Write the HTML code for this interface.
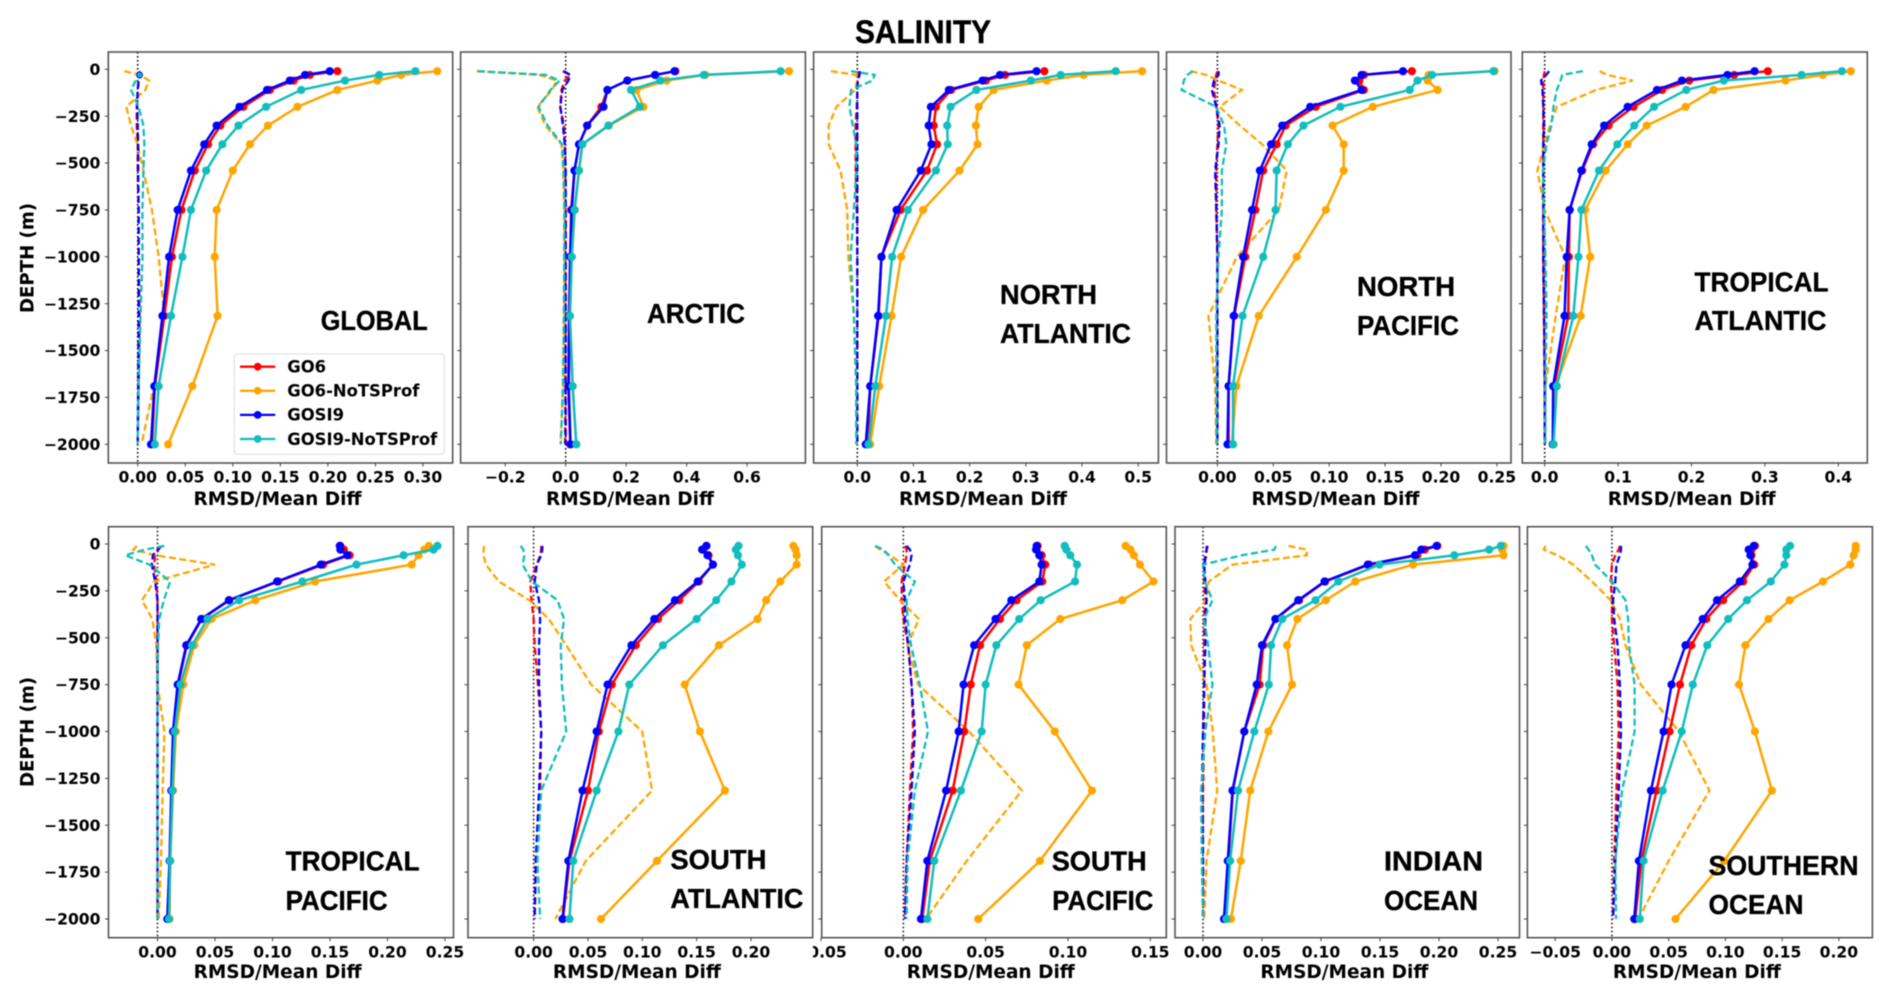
<!DOCTYPE html>
<html lang="en">
<head>
<meta charset="utf-8">
<title>Salinity RMSD and mean difference profiles</title>
<style>
html,body{margin:0;padding:0;background:#fff;width:1892px;height:1000px;overflow:hidden}
svg{display:block;filter:blur(.45px)}
.tick{font:bold 15.6px "DejaVu Sans",sans-serif;fill:#000}
.axis-title{font:bold 18.8px "DejaVu Sans",sans-serif;fill:#000}
.region{font:bold 27.5px "Liberation Sans",sans-serif;fill:#000;stroke:#000;stroke-width:.35px}
.title{font:bold 32px "Liberation Sans",sans-serif;fill:#000;stroke:#000;stroke-width:.4px}
.legend-text{font:bold 16.4px "DejaVu Sans",sans-serif;fill:#000}
</style>
</head>
<body>
<svg id="chart" xmlns="http://www.w3.org/2000/svg" width="1892" height="1000" viewBox="0 0 1892 1000">
  <rect x="0" y="0" width="1892" height="1000" fill="#fff"/>
  <defs><clipPath id="sp-tick-clip"><rect x="813" y="935" width="120" height="40"/></clipPath></defs>
  <text class="title" x="855" y="43" textLength="136" lengthAdjust="spacingAndGlyphs">SALINITY</text>
  <g id="panels"></g>
  <g id="labels">
    <text class="region" x="320.7" y="330" textLength="107" lengthAdjust="spacingAndGlyphs">GLOBAL</text>
    <text class="region" x="647" y="323" textLength="98" lengthAdjust="spacingAndGlyphs">ARCTIC</text>
    <text class="region" x="1000" y="304" textLength="97" lengthAdjust="spacingAndGlyphs">NORTH</text>
    <text class="region" x="1000" y="343" textLength="131" lengthAdjust="spacingAndGlyphs">ATLANTIC</text>
    <text class="region" x="1357" y="296" textLength="98" lengthAdjust="spacingAndGlyphs">NORTH</text>
    <text class="region" x="1357" y="335" textLength="102" lengthAdjust="spacingAndGlyphs">PACIFIC</text>
    <text class="region" x="1694.5" y="291.7" textLength="134" lengthAdjust="spacingAndGlyphs">TROPICAL</text>
    <text class="region" x="1694.5" y="330" textLength="132" lengthAdjust="spacingAndGlyphs">ATLANTIC</text>
    <text class="region" x="285.6" y="870.7" textLength="134" lengthAdjust="spacingAndGlyphs">TROPICAL</text>
    <text class="region" x="285.6" y="910" textLength="102" lengthAdjust="spacingAndGlyphs">PACIFIC</text>
    <text class="region" x="670.4" y="869" textLength="96" lengthAdjust="spacingAndGlyphs">SOUTH</text>
    <text class="region" x="670.4" y="908" textLength="133" lengthAdjust="spacingAndGlyphs">ATLANTIC</text>
    <text class="region" x="1051.7" y="870.7" textLength="95" lengthAdjust="spacingAndGlyphs">SOUTH</text>
    <text class="region" x="1052.3" y="910" textLength="101" lengthAdjust="spacingAndGlyphs">PACIFIC</text>
    <text class="region" x="1384" y="870.7" textLength="99" lengthAdjust="spacingAndGlyphs">INDIAN</text>
    <text class="region" x="1384" y="910" textLength="94" lengthAdjust="spacingAndGlyphs">OCEAN</text>
    <text class="region" x="1708.5" y="875" textLength="150" lengthAdjust="spacingAndGlyphs">SOUTHERN</text>
    <text class="region" x="1708.5" y="914" textLength="95" lengthAdjust="spacingAndGlyphs">OCEAN</text>
  </g>
  <g id="legend"></g>
</svg>
<script>
// Shared axis data
const depthLevels = [10,30,60,110,200,300,400,540,750,1000,1315,1690,2000];
const depthTicks = [0,-250,-500,-750,-1000,-1250,-1500,-1750,-2000];
const seriesNames = ['GO6','GO6-NoTSProf','GOSI9','GOSI9-NoTSProf'];

// GLOBAL
const globalGo6Rmsd = [.21,.181,.164,.139,.111,.087,.074,.060,.046,.036,.028,.018,.015];
const globalGo6NoRmsd = [.315,.277,.252,.21,.168,.137,.118,.100,.083,.081,.084,.0575,.032];
const globalGosiRmsd = [.202,.176,.160,.136,.107,.083,.070,.056,.042,.033,.026,.0175,.014];
const globalGosiNoRmsd = [.292,.254,.218,.172,.135,.106,.089,.072,.056,.047,.035,.022,.018];
const globalGo6Diff = [.002,.002,.001,0,-.001,-.001,0,0,.001,.001,.002,.001,0];
const globalGo6NoDiff = [-.014,.002,.012,.008,-.012,-.007,-.0003,.006,.015,.022,.028,.017,.004];
const globalGosiDiff = [.002,.002,.001,0,-.0005,0,.0005,.0005,.001,.001,.001,.0005,0];
const globalGosiNoDiff = [.002,.002,-.002,-.007,.001,.006,.007,.006,.005,.005,.003,.001,0];
const globalTicks = ['0.00','0.05','0.10','0.15','0.20','0.25','0.30'];

// ARCTIC
const arcticGo6Rmsd = [.363,.296,.204,.138,.118,.071,.044,.029,.018,.015,.011,.009,.015];
const arcticGo6NoRmsd = [.739,.462,.334,.234,.257,.143,.055,.044,.03,.02,.014,.023,.035];
const arcticGosiRmsd = [.36,.296,.204,.138,.125,.071,.044,.029,.02,.015,.012,.01,.016];
const arcticGosiNoRmsd = [.711,.457,.313,.216,.245,.141,.055,.044,.029,.02,.014,.023,.035];
const arcticGo6Diff = [-.01,.015,-.003,-.014,-.018,-.006,-.003,-.001,-.001,-.001,-.001,-.001,-.002];
const arcticGo6NoDiff = [-.295,-.087,-.03,-.045,-.094,-.067,-.014,-.008,-.005,-.005,-.006,-.009,-.017];
const arcticGosiDiff = [-.006,.015,.009,-.011,-.018,-.009,-.003,0,0,0,0,0,0];
const arcticGosiNoDiff = [-.29,-.065,-.02,-.05,-.09,-.06,-.012,-.007,-.004,-.005,-.006,-.009,-.016];
const arcticTicks = ['-0.2','0.0','0.2','0.4','0.6'];

// NORTH ATLANTIC
const nAtlGo6Rmsd = [.333,.263,.229,.167,.14,.136,.142,.124,.077,.043,.038,.023,.019];
const nAtlGo6NoRmsd = [.507,.403,.337,.243,.216,.211,.214,.182,.117,.078,.061,.039,.023];
const nAtlGosiRmsd = [.319,.254,.223,.163,.131,.127,.132,.113,.07,.043,.037,.023,.015];
const nAtlGosiNoRmsd = [.46,.362,.309,.212,.166,.16,.161,.14,.09,.062,.051,.032,.02];
const nAtlGo6Diff = [.003,.002,0,0,-.001,-.003,-.003,-.003,-.001,0,0,0,0];
const nAtlGo6NoDiff = [-.047,-.002,0,-.004,-.037,-.051,-.051,-.03,-.018,-.016,-.006,-.002,-.001];
const nAtlGosiDiff = [.005,.004,.001,0,0,0,0,0,0,0,0,0,0];
const nAtlGosiNoDiff = [-.011,.031,.027,-.011,-.014,-.008,-.002,-.002,-.006,-.012,-.006,-.002,-.002];
const nAtlTicks = ['0.0','0.1','0.2','0.3','0.4','0.5'];

// NORTH PACIFIC
const nPacGo6Rmsd = [.174,.131,.127,.131,.088,.061,.053,.041,.034,.025,.015,.01,.01];
const nPacGo6NoRmsd = [.248,.189,.188,.197,.139,.103,.113,.113,.097,.071,.037,.017,.013];
const nPacGosiRmsd = [.166,.129,.123,.129,.083,.058,.048,.038,.031,.023,.0146,.01,.009];
const nPacGosiNoRmsd = [.247,.192,.179,.172,.11,.077,.063,.053,.052,.041,.0225,.014,.014];
const nPacGo6Diff = [0,-.001,-.002,-.003,-.001,.001,0,-.001,-.001,0,0,0,0];
const nPacGo6NoDiff = [-.024,-.01,.001,.022,.002,.02,.04,.062,.055,.0175,-.008,-.002,-.001];
const nPacGosiDiff = [.001,.001,-.003,-.005,-.001,.002,.001,-.002,-.001,0,0,0,0];
const nPacGosiNoDiff = [-.022,-.027,-.03,-.032,-.001,.006,.008,.004,.004,.001,-.001,-.001,-.0005];
const nPacTicks = ['0.00','0.05','0.10','0.15','0.20','0.25'];

// TROPICAL ATLANTIC
const tAtlGo6Rmsd = [.304,.258,.197,.16,.121,.087,.066,.051,.034,.033,.032,.013,.012];
const tAtlGo6NoRmsd = [.417,.379,.328,.23,.192,.139,.113,.083,.055,.062,.049,.015,.012];
const tAtlGosiRmsd = [.286,.249,.187,.153,.113,.081,.064,.05,.034,.03,.027,.0115,.011];
const tAtlGosiNoRmsd = [.405,.35,.244,.193,.149,.122,.099,.074,.05,.046,.039,.0165,.012];
const tAtlGo6Diff = [0,-.001,-.002,-.002,-.002,-.002,-.002,-.002,-.002,-.002,-.001,0,0];
const tAtlGo6NoDiff = [.075,.085,.12,.07,.0165,.007,0,-.01,0,.028,.015,.001,0];
const tAtlGosiDiff = [.006,.002,-.005,-.003,-.002,-.001,-.002,-.002,-.002,-.002,-.001,0,0];
const tAtlGosiNoDiff = [.052,.024,.0215,.0165,.012,.009,.0025,-.0025,-.001,.001,.0025,.001,.001];
const tAtlTicks = ['0.0','0.1','0.2','0.3','0.4'];

// TROPICAL PACIFIC
const tPacGo6Rmsd = [.159,.162,.167,.144,.105,.0625,.0385,.0255,.018,.0145,.0125,.011,.009];
const tPacGo6NoRmsd = [.236,.232,.227,.221,.137,.085,.047,.032,.0225,.016,.0135,.011,.0105];
const tPacGosiRmsd = [.1585,.159,.165,.142,.104,.062,.038,.025,.0175,.0135,.012,.0105,.0085];
const tPacGosiNoRmsd = [.2435,.24,.214,.173,.126,.071,.0435,.03,.02,.015,.013,.011,.01];
const tPacGo6Diff = [.002,.001,-.002,-.003,-.001,0,0,0,0,0,0,0,0];
const tPacGo6NoDiff = [-.018,-.021,-.002,.05,-.003,-.0135,-.0045,-.001,0,.006,.0045,.003,.001];
const tPacGosiDiff = [.004,0,-.004,-.005,-.002,0,0,0,0,0,0,0,0];
const tPacGosiNoDiff = [.006,-.011,-.028,-.007,.011,.0055,.0015,.0005,0,0,0,0,0];
const tPacTicks = ['0.00','0.05','0.10','0.15','0.20','0.25'];

// SOUTH ATLANTIC
const sAtlGo6Rmsd = [.159,.156,.161,.165,.152,.134,.1145,.094,.072,.06,.05,.033,.027];
const sAtlGo6NoRmsd = [.239,.241,.242,.242,.227,.214,.206,.1705,.139,.153,.176,.1135,.062];
const sAtlGosiRmsd = [.159,.155,.16,.165,.151,.13,.111,.09,.068,.058,.045,.032,.0266];
const sAtlGosiNoRmsd = [.1885,.186,.188,.1915,.182,.168,.15,.119,.088,.078,.058,.0365,.033];
const sAtlGo6Diff = [.007,.007,.006,.003,-.003,-.002,0,.001,.004,.007,.006,.002,.001];
const sAtlGo6NoDiff = [-.0455,-.046,-.046,-.044,-.032,-.004,.014,.03,.053,.1,.109,.048,.02];
const sAtlGosiDiff = [.008,.008,.007,.003,.001,.005,.006,.005,.005,.007,.005,.002,.001];
const sAtlGosiNoDiff = [-.012,-.0095,-.0085,-.01,-.0015,.022,.028,.025,.026,.03,.007,.0035,.006];
const sAtlTicks = ['0.00','0.05','0.10','0.15','0.20'];

// SOUTH PACIFIC
const sPacGo6Rmsd = [.0816,.081,.084,.0862,.0844,.0688,.0587,.0466,.041,.037,.03,.016,.0115];
const sPacGo6NoRmsd = [.135,.138,.14,.1437,.152,.133,.0953,.075,.07,.092,.1146,.083,.0455];
const sPacGosiRmsd = [.081,.0806,.0826,.084,.0826,.0656,.056,.043,.0366,.0336,.026,.0146,.0107];
const sPacGosiNoRmsd = [.098,.099,.1014,.1055,.1043,.0834,.0704,.0565,.05,.0476,.035,.0188,.0146];
const sPacGo6Diff = [.001,.002,.002,.001,-.001,-.001,0,.003,.005,.006,.004,.002,.001];
const sPacGo6NoDiff = [-.0172,-.014,-.008,0,-.0117,-.002,.0095,.0025,.009,.04,.072,.0385,.0138];
const sPacGosiDiff = [.002,.004,.005,.004,0,.001,.001,.003,.005,.007,.005,.002,.001];
const sPacGosiNoDiff = [-.017,-.012,-.009,-.005,.007,.002,.0025,.0047,.01,.015,.007,.0026,.002];
const sPacTicks = ['-0.05','0.00','0.05','0.10','0.15'];

// INDIAN OCEAN
const indGo6Rmsd = [.1986,.188,.1816,.141,.1036,.0815,.0617,.051,.048,.035,.0253,.0214,.018];
const indGo6NoRmsd = [.2547,.2535,.2547,.178,.129,.104,.08,.0712,.0755,.0554,.04,.032,.0237];
const indGosiRmsd = [.198,.185,.1796,.1396,.103,.0807,.0613,.05,.0455,.035,.025,.021,.0178];
const indGosiNoRmsd = [.2524,.2425,.213,.1495,.1147,.0953,.0672,.0577,.0558,.0435,.0297,.023,.0198];
const indGo6Diff = [.003,.003,.003,.001,.001,.002,.001,.001,.001,.001,0,0,0];
const indGo6NoDiff = [.0724,.088,.088,.025,.005,.0024,-.0107,-.01,.003,.0083,.012,.003,.001];
const indGosiDiff = [.004,.003,.002,.001,.002,.003,.002,.002,.001,0,-.001,0,0];
const indGosiNoDiff = [.0617,.0605,.033,0,.0016,.008,.001,.0044,.008,.002,-.0016,-.001,0];
const indTicks = ['0.00','0.05','0.10','0.15','0.20','0.25'];

// SOUTHERN OCEAN
const soGo6Rmsd = [.126,.123,.123,.1254,.1156,.098,.0832,.07,.06,.0508,.0393,.026,.0205];
const soGo6NoRmsd = [.2148,.2148,.213,.21,.186,.1566,.138,.1176,.112,.126,.141,.099,.056];
const soGosiRmsd = [.125,.1205,.122,.1238,.1127,.0926,.08,.0648,.0525,.0455,.0344,.0238,.0197];
const soGosiNoRmsd = [.157,.1537,.1537,.152,.14,.119,.1025,.084,.0713,.0615,.0447,.0279,.0246];
const soGo6Diff = [.007,.006,.003,0,-.001,0,0,.002,.005,.006,.004,.002,.001];
const soGo6NoDiff = [-.0586,-.06,-.048,-.034,-.0176,-.001,.007,.012,.0254,.059,.086,.05,.0234];
const soGosiDiff = [.008,.008,.007,.004,.003,.001,.002,.005,.007,.008,.006,.003,.001];
const soGosiNoDiff = [-.023,-.0205,-.0176,-.0148,0,.012,.0143,.015,.02,.02,.009,.003,.0037];
const soTicks = ['-0.05','0.00','0.05','0.10','0.15','0.20'];

const SVG_NS = 'http://www.w3.org/2000/svg';
const seriesColors = ['#ff0000','#ffa500','#0000ff','#12bdbd'];
const ROW1 = {top:52, bottom:463, y0:69.3, ppm:375/2000, tickBase:482.7, titleBase:505};
const ROW2 = {top:526.7, bottom:937.7, y0:544, ppm:375/2000, tickBase:957.5, titleBase:978};

const panels = [
 {key:'global',row:ROW1,left:108.3,right:452.7,x0:137.7,ppu:951,titleX:277.5,yLabels:true,ticks:globalTicks,
  solid:[globalGo6Rmsd,globalGo6NoRmsd,globalGosiRmsd,globalGosiNoRmsd],dash:[globalGo6Diff,globalGo6NoDiff,globalGosiDiff,globalGosiNoDiff],dashDot:1},
 {key:'arctic',row:ROW1,left:460.6,right:805.4,x0:565.7,ppu:302.3,titleX:630,ticks:arcticTicks,
  solid:[arcticGo6Rmsd,arcticGo6NoRmsd,arcticGosiRmsd,arcticGosiNoRmsd],dash:[arcticGo6Diff,arcticGo6NoDiff,arcticGosiDiff,arcticGosiNoDiff]},
 {key:'north-atlantic',row:ROW1,left:813.6,right:1158.4,x0:857.3,ppu:561.8,titleX:983,ticks:nAtlTicks,
  solid:[nAtlGo6Rmsd,nAtlGo6NoRmsd,nAtlGosiRmsd,nAtlGosiNoRmsd],dash:[nAtlGo6Diff,nAtlGo6NoDiff,nAtlGosiDiff,nAtlGosiNoDiff]},
 {key:'north-pacific',row:ROW1,left:1166.5,right:1511,x0:1217.4,ppu:1118,titleX:1335.5,ticks:nPacTicks,
  solid:[nPacGo6Rmsd,nPacGo6NoRmsd,nPacGosiRmsd,nPacGosiNoRmsd],dash:[nPacGo6Diff,nPacGo6NoDiff,nPacGosiDiff,nPacGosiNoDiff]},
 {key:'tropical-atlantic',row:ROW1,left:1522.3,right:1867.3,x0:1544.7,ppu:734,titleX:1691.7,ticks:tAtlTicks,
  solid:[tAtlGo6Rmsd,tAtlGo6NoRmsd,tAtlGosiRmsd,tAtlGosiNoRmsd],dash:[tAtlGo6Diff,tAtlGo6NoDiff,tAtlGosiDiff,tAtlGosiNoDiff]},
 {key:'tropical-pacific',row:ROW2,left:108.5,right:453.5,x0:157.5,ppu:1150,titleX:277.6,yLabels:true,ticks:tPacTicks,
  solid:[tPacGo6Rmsd,tPacGo6NoRmsd,tPacGosiRmsd,tPacGosiNoRmsd],dash:[tPacGo6Diff,tPacGo6NoDiff,tPacGosiDiff,tPacGosiNoDiff]},
 {key:'south-atlantic',row:ROW2,left:468,right:812.7,x0:533.6,ppu:1087,titleX:636.9,ticks:sAtlTicks,
  solid:[sAtlGo6Rmsd,sAtlGo6NoRmsd,sAtlGosiRmsd,sAtlGosiNoRmsd],dash:[sAtlGo6Diff,sAtlGo6NoDiff,sAtlGosiDiff,sAtlGosiNoDiff]},
 {key:'south-pacific',row:ROW2,left:821.7,right:1166.3,x0:903.3,ppu:1646.7,titleX:990.8,ticks:sPacTicks,clipTicks:'url(#sp-tick-clip)',
  solid:[sPacGo6Rmsd,sPacGo6NoRmsd,sPacGosiRmsd,sPacGosiNoRmsd],dash:[sPacGo6Diff,sPacGo6NoDiff,sPacGosiDiff,sPacGosiNoDiff]},
 {key:'indian-ocean',row:ROW2,left:1175,right:1519.5,x0:1203,ppu:1180,titleX:1344.4,ticks:indTicks,
  solid:[indGo6Rmsd,indGo6NoRmsd,indGosiRmsd,indGosiNoRmsd],dash:[indGo6Diff,indGo6NoDiff,indGosiDiff,indGosiNoDiff]},
 {key:'southern-ocean',row:ROW2,left:1527.4,right:1872.4,x0:1611.9,ppu:1135,titleX:1696.9,ticks:soTicks,
  solid:[soGo6Rmsd,soGo6NoRmsd,soGosiRmsd,soGosiNoRmsd],dash:[soGo6Diff,soGo6NoDiff,soGosiDiff,soGosiNoDiff]}
];

function mk(tag, attrs, parent) {
  const e = document.createElementNS(SVG_NS, tag);
  for (const k in attrs) e.setAttribute(k, attrs[k]);
  parent.appendChild(e);
  return e;
}
function slug(s) { return s.toLowerCase().replace(/[^a-z0-9]+/g, '-'); }

const panelsRoot = document.getElementById('panels');

panels.forEach(function (p) {
  const xScale = function (v) { return p.x0 + v * p.ppu; };
  const yScale = function (d) { return p.row.y0 + d * p.row.ppm; };

  const g = mk('g', {}, panelsRoot);
  
  

  const clipId = 'clip-' + p.key;
  const clip = mk('clipPath', {id: clipId}, g);
  mk('rect', {x: p.left, y: p.row.top, width: p.right - p.left, height: p.row.bottom - p.row.top}, clip);

  // zero reference line
  const zero = mk('line', {x1: xScale(0), x2: xScale(0), y1: p.row.top, y2: p.row.bottom, stroke: '#111', 'stroke-width': 1.6, 'stroke-dasharray': '1.6 2.4'}, g);
  
  

  const plot = mk('g', {'clip-path': 'url(#' + clipId + ')'}, g);

  // dashed mean difference profiles
  p.dash.forEach(function (vals, i) {
    const pts = vals.map(function (v, k) { return xScale(v).toFixed(2) + ',' + yScale(depthLevels[k]).toFixed(2); }).join(' ');
    const line = mk('polyline', {points: pts, fill: 'none', stroke: seriesColors[i], 'stroke-width': 2.3, 'stroke-dasharray': '7 3.4'}, plot);
    
    
  });

  // solid RMSD profiles with markers
  p.solid.forEach(function (vals, i) {
    const pts = vals.map(function (v, k) { return xScale(v).toFixed(2) + ',' + yScale(depthLevels[k]).toFixed(2); }).join(' ');
    const line = mk('polyline', {points: pts, fill: 'none', stroke: seriesColors[i], 'stroke-width': 2.5}, plot);
    
    
    vals.forEach(function (v, k) {
      const dot = mk('circle', {cx: xScale(v), cy: yScale(depthLevels[k]), r: 4.1, fill: seriesColors[i]}, plot);
      
      
    });
  });

  if (p.dashDot !== undefined) {
    [2, 3].forEach(function (i) {
      const dot = mk('circle', {cx: xScale(p.dash[i][p.dashDot]), cy: yScale(depthLevels[p.dashDot]), r: i === 2 ? 3.4 : 2.4, fill: seriesColors[i]}, plot);
      
      
    });
  }

  // frame
  const frame = mk('rect', {x: p.left, y: p.row.top, width: p.right - p.left, height: p.row.bottom - p.row.top, fill: 'none', stroke: '#555', 'stroke-width': 1.6}, g);
  
  

  // y ticks
  depthTicks.forEach(function (d) {
    const y = yScale(-d);
    const t = mk('line', {x1: p.left - 3.5, x2: p.left, y1: y, y2: y, stroke: '#444', 'stroke-width': 1}, g);
    
    
    if (p.yLabels) {
      const lab = mk('text', {class: 'tick', x: p.left - 8, y: y + 5.6, 'text-anchor': 'end'}, g);
      lab.textContent = String(d).replace('-', '\u2212');
      
      
    }
  });

  // x ticks
  p.ticks.forEach(function (label) {
    const x = xScale(parseFloat(label));
    const t = mk('line', {x1: x, x2: x, y1: p.row.bottom, y2: p.row.bottom + 3.5, stroke: '#444', 'stroke-width': 1}, g);
    
    
    const lab = mk('text', {class: 'tick', x: x, y: p.row.tickBase, 'text-anchor': 'middle'}, g);
    lab.textContent = label.replace('-', '\u2212');
    if (p.clipTicks && label.charAt(0) === '-') lab.setAttribute('clip-path', p.clipTicks);
    
    
  });

  // x-axis title
  const xt = mk('text', {class: 'axis-title', x: p.titleX, y: p.row.titleBase, 'text-anchor': 'middle', textLength: 168, lengthAdjust: 'spacingAndGlyphs'}, g);
  xt.textContent = 'RMSD/Mean Diff';
  
  

  // y-axis title
  if (p.yLabels) {
    const cy = p.row === ROW1 ? 258 : 732;
    const yt = mk('text', {class: 'axis-title', x: 0, y: 0, 'text-anchor': 'middle', transform: 'translate(33.5 ' + cy + ') rotate(-90)', textLength: 110, lengthAdjust: 'spacingAndGlyphs'}, g);
    yt.textContent = 'DEPTH (m)';
    
    
  }
});

// Legend
const legend = document.getElementById('legend');
const legendBox = mk('rect', {x: 234.3, y: 354, width: 210, height: 100.3, rx: 3, fill: '#fff', 'fill-opacity': .85, stroke: '#ddd', 'stroke-width': 1}, legend);


seriesNames.forEach(function (name, i) {
  const y = 366.7 + i * 24.1;
  const entry = mk('g', {}, legend);
  
  
  mk('line', {x1: 240, x2: 275.3, y1: y, y2: y, stroke: seriesColors[i], 'stroke-width': 2.3}, entry);
  mk('circle', {cx: 257.7, cy: y, r: 3.9, fill: seriesColors[i]}, entry);
  const txt = mk('text', {class: 'legend-text', x: 287.3, y: y + 5.8}, entry);
  txt.textContent = name;
});
</script>
</body>
</html>
